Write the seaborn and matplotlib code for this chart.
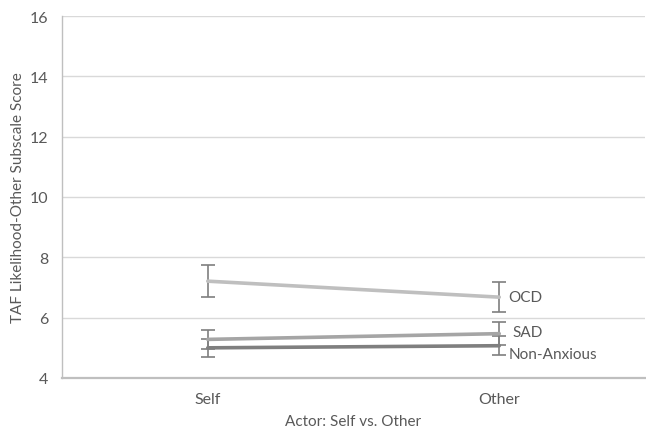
import matplotlib
matplotlib.use("Agg")
import matplotlib.pyplot as plt
import seaborn as sns
import pandas as pd

# Group means and error-bar half-widths for each actor condition
actors = ["Self", "Other"]
groups = ["OCD", "SAD", "Non-Anxious"]
ocd_mean = [7.21, 6.68]
sad_mean = [5.28, 5.47]
nonanx_mean = [5.00, 5.07]
ocd_err = [0.52, 0.49]
sad_err = [0.31, 0.37]
nonanx_err = [0.30, 0.31]
y_ticks = [4, 6, 8, 10, 12, 14, 16]

colors = {"OCD": "#bfbfbf", "SAD": "#a5a5a5", "Non-Anxious": "#7f7f7f"}
text_color = "#595959"

means = {"OCD": ocd_mean, "SAD": sad_mean, "Non-Anxious": nonanx_mean}
errs = {"OCD": ocd_err, "SAD": sad_err, "Non-Anxious": nonanx_err}

rows = []
for g in groups:
    for i, a in enumerate(actors):
        rows.append({"Actor": a, "pos": i, "Group": g, "Score": means[g][i], "err": errs[g][i]})
df = pd.DataFrame(rows)

sns.set_theme(style="white")
plt.rcParams["font.family"] = ["Lato", "DejaVu Sans"]

fig = plt.figure(figsize=(6.46, 4.31), dpi=100)
ax = fig.add_axes([62 / 646, 52 / 431, 583 / 646, 362 / 431])

# Error bars drawn first so the lines sit over them
for g in groups:
    sub = df[df["Group"] == g]
    ax.errorbar(sub["pos"], sub["Score"], yerr=sub["err"], fmt="none",
                ecolor="#7f7f7f", elinewidth=1.2, capsize=5, capthick=1.2, zorder=2)

sns.lineplot(data=df, x="pos", y="Score", hue="Group", hue_order=groups,
             palette=colors, linewidth=2.6, legend=False, ax=ax, zorder=3)

# Series labels placed next to the last point of each line
label_offsets = {"OCD": (0.032, 0.0), "SAD": (0.045, 0.07), "Non-Anxious": (0.032, -0.28)}
for g in groups:
    dx, dy = label_offsets[g]
    ax.text(1 + dx, means[g][1] + dy, g, color=text_color, fontsize=11,
            va="center", ha="left")

ax.set_xlim(-0.5, 1.5)
ax.set_ylim(4, 16)
ax.set_yticks(y_ticks)
ax.set_xticks([0, 1])
ax.set_xticklabels(actors)
ax.yaxis.grid(True, color="#d9d9d9", linewidth=1.0)
ax.set_axisbelow(True)

for side in ["top", "right"]:
    ax.spines[side].set_visible(False)
ax.spines["left"].set_color("#bfbfbf")
ax.spines["left"].set_linewidth(1.0)
ax.spines["bottom"].set_color("#bfbfbf")
ax.spines["bottom"].set_linewidth(1.6)

ax.tick_params(axis="both", length=0, colors=text_color, labelsize=11.5)
ax.tick_params(axis="y", pad=10)
ax.tick_params(axis="x", pad=10)

ax.set_xlabel("Actor: Self vs. Other", color=text_color, fontsize=11, labelpad=6)
ax.set_ylabel("TAF Likelihood-Other Subscale Score", color=text_color, fontsize=11, labelpad=3)

fig.savefig("out.png", dpi=100)
